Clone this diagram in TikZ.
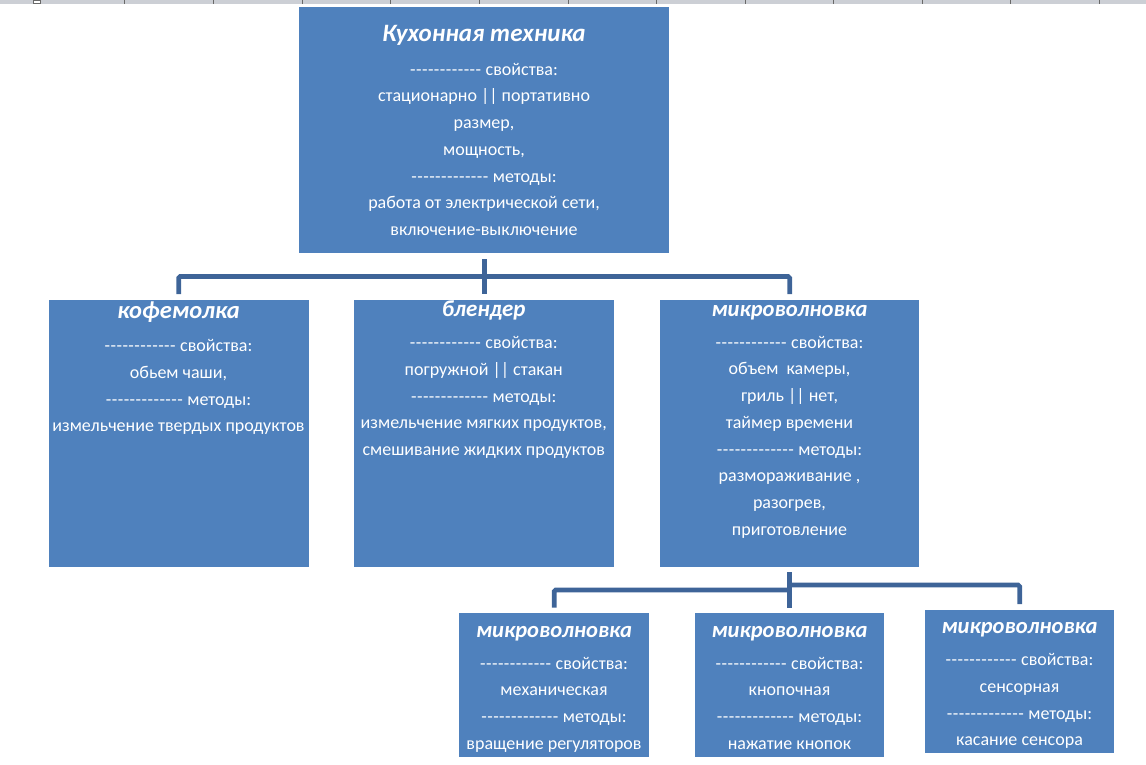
\documentclass[tikz,border=0pt]{standalone}
\usepackage{fontspec}
\setmainfont{Carlito}
\ExplSyntaxOn
\NewDocumentCommand\dashrun{m}{\prg_replicate:nn{#1}{-\kern0.45pt\relax}}
\ExplSyntaxOff
\definecolor{boxblue}{RGB}{79,129,189}
\definecolor{connblue}{RGB}{62,100,152}
\definecolor{rulergray}{RGB}{204,207,213}
\definecolor{tickgray}{RGB}{105,105,105}
\tikzset{
  box/.style={fill=boxblue, draw=none, inner sep=0pt, anchor=north west, rectangle},
  ttl/.style={text=white, font=\fontsize{#1}{27}\selectfont\bfseries\itshape, inner sep=0pt, anchor=base},
  ttl/.default=22.6,
  bodytxt/.style={text=white, font=\fontsize{18}{26.7}\selectfont, align=center, inner sep=0pt, anchor=north},
  conn/.style={draw=connblue, line width=4.6pt, rounded corners=1.5pt},
}
\newcommand\fl{\rule{0pt}{13.5pt}}
\begin{document}
\begin{tikzpicture}[x=1pt,y=-1pt]
\useasboundingbox (0,0) rectangle (1146,765);
% ruler strip
\fill[rulergray] (0,0) rectangle (1146,3.6);
\foreach \tx in {124,213,302,390,479,568,656,745,833,922,1010,1099}
  \draw[tickgray, line width=0.9pt] (\tx,0) -- (\tx,3.6);
\draw[tickgray, line width=0.7pt, fill=white] (33,0) rectangle (40.5,3.4);

% boxes
\node[box, minimum width=370pt, minimum height=246pt] (top) at (299,7) {};
\node[box, minimum width=260pt, minimum height=267pt] (kofe) at (48.5,300) {};
\node[box, minimum width=259.5pt, minimum height=267pt] (blend) at (354,300) {};
\node[box, minimum width=259pt, minimum height=267pt] (micro) at (660,300) {};
\node[box, minimum width=190pt, minimum height=144pt] (mw1) at (459,613) {};
\node[box, minimum width=189pt, minimum height=144pt] (mw2) at (695,613) {};
\node[box, minimum width=189pt, minimum height=143pt] (mw3) at (925,610) {};

% texts
\node[ttl=25] (topT) at (484,42) {Кухонная техника};
\node[bodytxt] (topB) at (484,61.5) {\fl\dashrun{12} свойства:\\
стационарно || портативно\\ размер,\\ мощность,\\ \dashrun{13} методы:\\
работа от электрической сети,\\ включение-выключение};

\node[ttl=24.5] (kofeT) at (178.5,318.5) {кофемолка};
\node[bodytxt] (kofeB) at (178.5,338) {\fl\dashrun{12} свойства:\\ обьем чаши,\\
\dashrun{13} методы:\\ измельчение твердых продуктов};

\node[ttl=23] (blendT) at (483.75,316) {блендер};
\node[bodytxt] (blendB) at (483.75,335) {\fl\dashrun{12} свойства:\\ погружной || стакан\\
\dashrun{13} методы:\\ измельчение мягких продуктов,\\ смешивание жидких продуктов};

\node[ttl] (microT) at (789.5,316.5) {микроволновка};
\node[bodytxt] (microB) at (789.5,334.5) {\fl\dashrun{12} свойства:\\ объем~ камеры,\\
гриль || нет,\\ таймер времени\\ \dashrun{13} методы:\\ размораживание ,\\ разогрев,\\ приготовление};

\node[ttl] (mw1T) at (554,637.5) {микроволновка};
\node[bodytxt] (mw1B) at (554,655.5) {\fl\dashrun{12} свойства:\\ механическая\\
\dashrun{13} методы:\\ вращение регуляторов};

\node[ttl] (mw2T) at (789.5,637.5) {микроволновка};
\node[bodytxt] (mw2B) at (789.5,655.5) {\fl\dashrun{12} свойства:\\ кнопочная\\
\dashrun{13} методы:\\ нажатие кнопок};

\node[ttl] (mw3T) at (1019.5,633.5) {микроволновка};
\node[bodytxt] (mw3B) at (1019.5,652) {\fl\dashrun{12} свойства:\\ сенсорная\\
\dashrun{13} методы:\\ касание сенсора};

% connectors, level 1
\coordinate (bus1) at (484,276.5);
\draw[conn] ([yshift=-6pt]top.south) -- ([yshift=6pt]top.south |- blend.north);
\draw[conn] ([yshift=6pt]kofe.north) |- (bus1) -| ([yshift=6pt]micro.north);

% connectors, level 2
\coordinate (bus2L) at (789.5,590);
\coordinate (bus2R) at (789.5,585);
\draw[conn] ([yshift=-5pt]micro.south) -- ([yshift=5.5pt]micro.south |- mw2.north);
\draw[conn] ([yshift=5.5pt]mw1.north) |- (bus2L);
\draw[conn] (bus2R) -| ([yshift=6pt]mw3.north);
\end{tikzpicture}
\end{document}
